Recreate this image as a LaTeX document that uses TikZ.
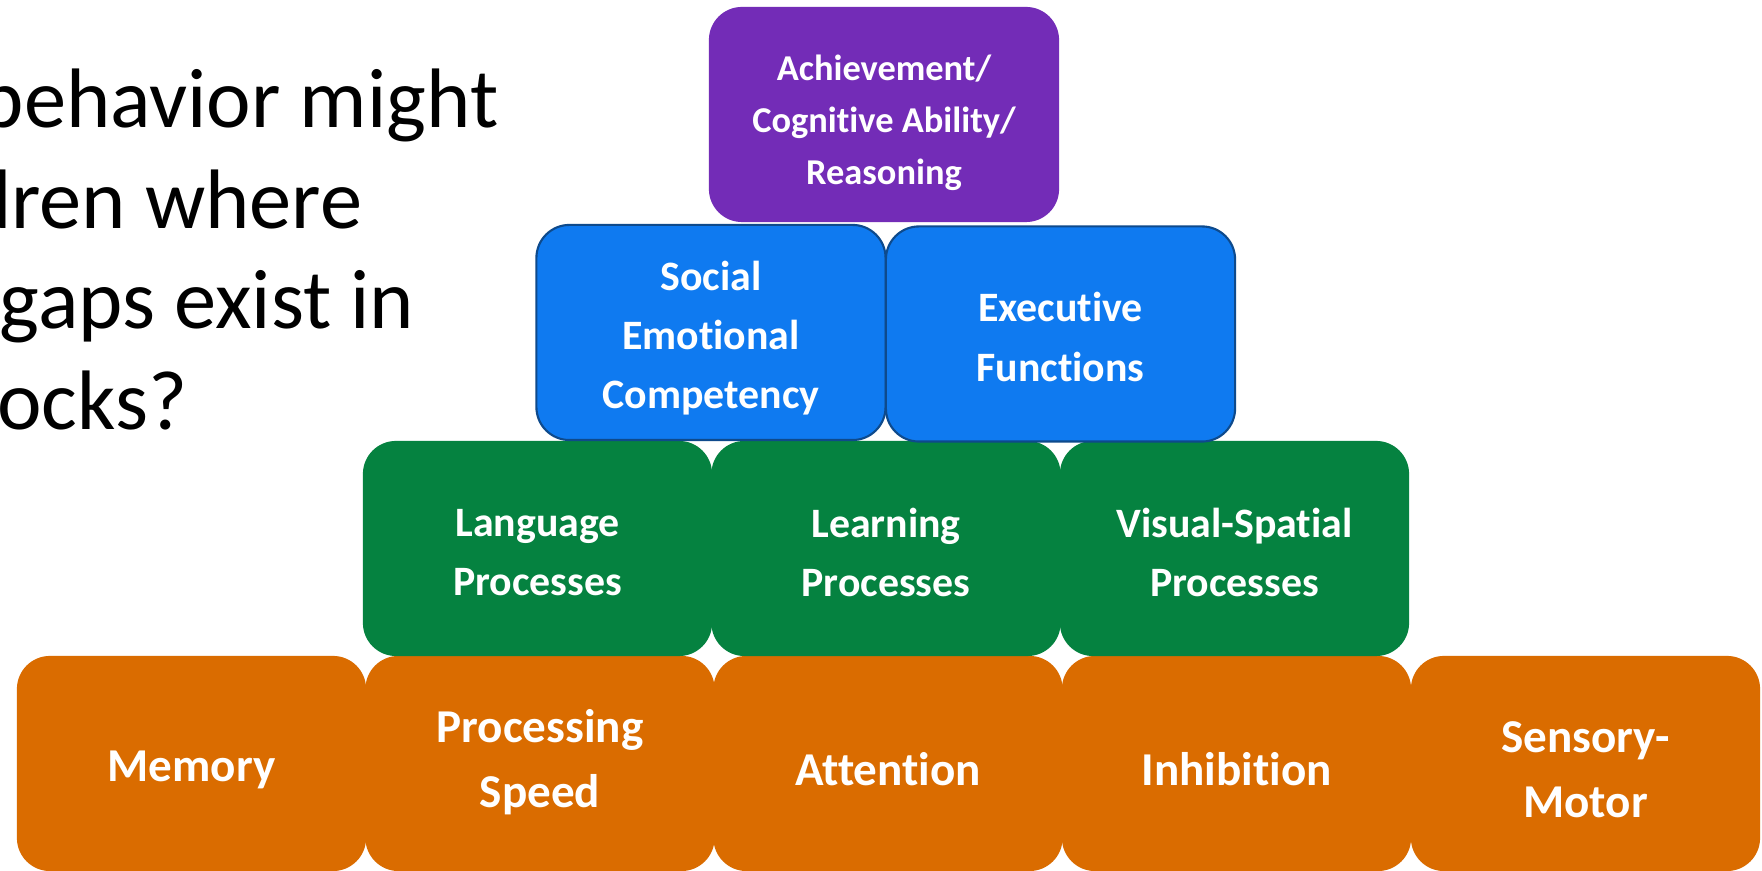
\documentclass[tikz,border=0pt]{standalone}
\usepackage{fontspec}
\setmainfont[Ligatures=NoCommon]{Carlito}
\definecolor{cPurple}{HTML}{732CB7}
\definecolor{cBlue}{HTML}{0F7AF0}
\definecolor{cBlueLine}{HTML}{0E4A8C}
\definecolor{cGreen}{HTML}{058240}
\definecolor{cOrange}{HTML}{DA6C00}
\begin{document}
\begin{tikzpicture}[x=0.01cm,y=-0.01cm,
  blk/.style={rectangle, rounded corners=9.4pt, minimum width=3.49cm,
    minimum height=2.15cm, inner sep=0pt},
  orangeblk/.style={blk, fill=cOrange},
  greenblk/.style={blk, fill=cGreen},
  blueblk/.style={blk, fill=cBlue, draw=cBlueLine, line width=0.6pt},
  purpleblk/.style={blk, fill=cPurple, minimum width=3.5cm},
  lbl/.style={inner sep=0pt, align=center, text=white},
  orangetxt/.style={lbl, font=\bfseries\fontsize{13.4}{18.5}\selectfont},
  greentxt/.style={lbl, font=\bfseries\fontsize{11.9}{16.8}\selectfont},
  bluetxt/.style={lbl, font=\bfseries\fontsize{11.9}{16.8}\selectfont},
  purpletxt/.style={lbl, font=\bfseries\fontsize{10.35}{14.8}\selectfont},
  bigtext/.style={anchor=base east, inner sep=0pt, text=black,
    font=\fontsize{24.0}{28.7}\selectfont}
]
\useasboundingbox (0,0) rectangle (1762,871);
\clip (0,0) rectangle (1762,871);
\fill[white] (0,0) rectangle (1762,871);

% question text (clipped at the left edge)
\node[bigtext] (q1) at (499,128) {behavior might};
\node[bigtext] (q2) at (363,229) {dren where};
\node[bigtext] (q3) at (415,329) {gaps exist in};
\node[bigtext] (q4) at (188,430) {ocks?};

% bottom row
\node[orangeblk] (mem) at (191.5,763.5) {};
\node[orangeblk] (ps)  at (540,763.5) {};
\node[orangeblk] (att) at (888,763.5) {};
\node[orangeblk] (inh) at (1236.5,763.5) {};
\node[orangeblk] (sm)  at (1585.5,763.5) {};
\node[orangetxt] (memt) at ([yshift=-6*0.01cm]mem.center) {Memory};
\node[orangetxt] (pst)  at ([yshift=1*0.01cm]ps.center) {Processing\\Speed};
\node[orangetxt] (attt) at ([yshift=-6*0.01cm]att.center) {Attention};
\node[orangetxt] (inht) at ([yshift=-6*0.01cm]inh.center) {Inhibition};
\node[orangetxt] (smt)  at ([yshift=-6*0.01cm]sm.center) {Sensory-\\Motor};

% second row
\node[greenblk] (lang) at (537.5,548.5) {};
\node[greenblk] (learn) at (886,548.5) {};
\node[greenblk] (vis) at (1234.5,548.5) {};
\node[greentxt] (langt) at ([yshift=-4*0.01cm]lang.center) {Language\\Processes};
\node[greentxt] (learnt) at ([yshift=-4*0.01cm]learn.center) {Learning\\Processes};
\node[greentxt] (vist) at ([yshift=-4*0.01cm]vis.center) {Visual-Spatial\\Processes};

% third row
\node[blueblk] (sec) at (711,332.5) {};
\node[blueblk] (ef) at (1060.5,334) {};
\node[bluetxt] (sect) at ([yshift=-6*0.01cm]sec.center) {Social\\Emotional\\Competency};
\node[bluetxt] (eft) at ([yshift=-3*0.01cm]ef.center) {Executive\\Functions};

% top
\node[purpleblk] (ach) at (884,114.5) {};
\node[purpletxt] (acht) at ([yshift=-8*0.01cm]ach.center) {Achievement/\\Cognitive Ability/\\Reasoning};
\end{tikzpicture}
\end{document}
